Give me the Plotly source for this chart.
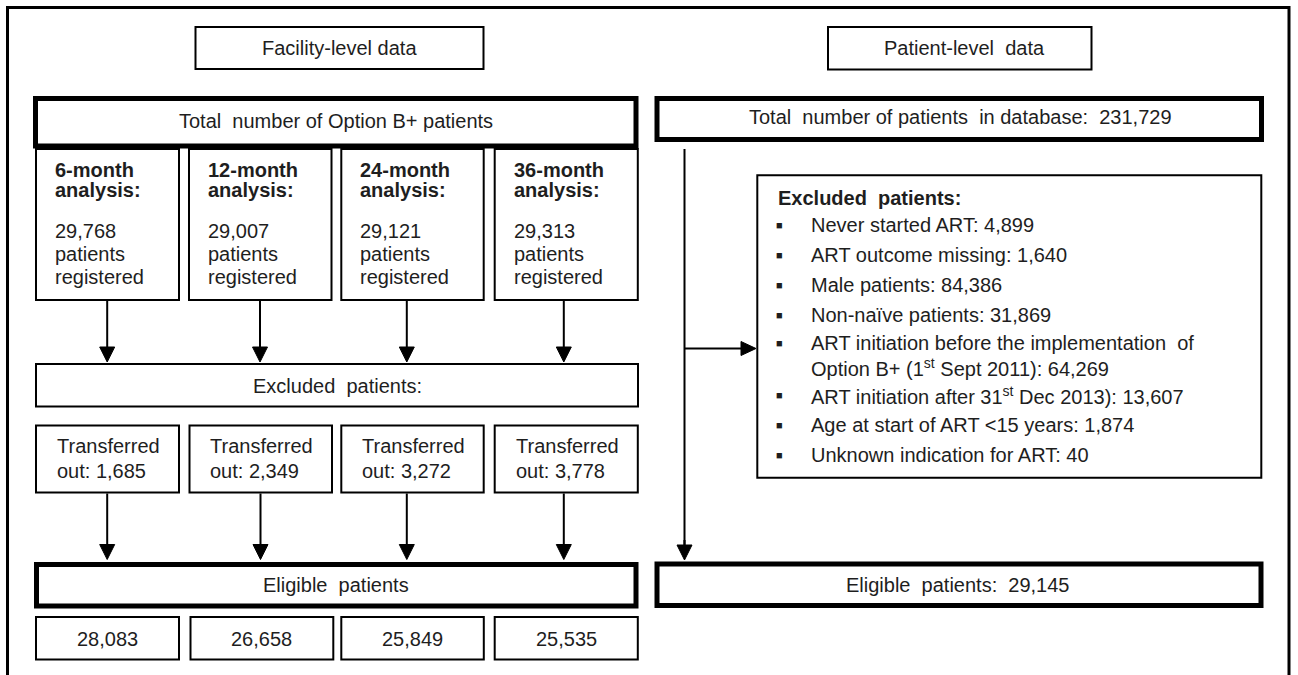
import plotly.graph_objects as go

# ---------------- data ----------------
facility_title = "Facility-level data"
patient_title = "Patient-level\u00a0 data"
facility_total_label = "Total\u00a0 number of Option B+ patients"
analysis_labels = ["6-month", "12-month", "24-month", "36-month"]
registered_counts = [29768, 29007, 29121, 29313]
transferred_counts = [1685, 2349, 3272, 3778]
eligible_counts = [28083, 26658, 25849, 25535]
database_total = 231729
excluded_reasons = [
    ["Never started ART"],
    ["ART outcome missing"],
    ["Male patients"],
    ["Non-na\u00efve patients"],
    ["ART initiation before the implementation\u00a0 of", "Option B+ (1<sup>st</sup> Sept 2011)"],
    ["ART initiation after 31<sup>st</sup> Dec 2013)"],
    ["Age at start of ART &lt;15 years"],
    ["Unknown indication for ART"],
]
excluded_counts = [4899, 1640, 84386, 31869, 64269, 13607, 1874, 40]
patient_eligible = 29145

# ---------------- layout constants ----------------
W, H = 1298, 675
TXT = "#1e1e1e"
FONT = "Arial, 'Liberation Sans', sans-serif"
FS = 20
DY = 0  # vertical text nudge

col_left = [36, 189, 341.3, 494.7]
col_right = [179, 331.5, 483.7, 637.8]
bot_left = [36, 190.5, 341.3, 494.7]
bot_right = [179, 333.3, 483.8, 637.8]
arrow_x = [107.2, 260, 406.8, 563.8]

shapes = []
annotations = []


def rect(x0, y0, x1, y1, w=2):
    shapes.append(dict(type="rect", xref="x", yref="y", x0=x0, y0=y0, x1=x1, y1=y1,
                       line=dict(color="black", width=w), fillcolor="rgba(0,0,0,0)", layer="above"))


def line(x0, y0, x1, y1, w=2):
    shapes.append(dict(type="line", xref="x", yref="y", x0=x0, y0=y0, x1=x1, y1=y1,
                       line=dict(color="black", width=w)))


def down_arrow(x, y0, y1, hw=7.5, hh=15):
    line(x, y0, x, y1 - hh + 1)
    shapes.append(dict(type="path", xref="x", yref="y",
                       path=f"M{x-hw},{y1-hh} L{x+hw},{y1-hh} L{x},{y1} Z",
                       fillcolor="black", line=dict(color="black", width=1)))


def right_arrow(x0, x1, y, hw=7, hh=15):
    line(x0, y, x1 - hh + 1, y)
    shapes.append(dict(type="path", xref="x", yref="y",
                       path=f"M{x1-hh},{y-hw} L{x1-hh},{y+hw} L{x1},{y} Z",
                       fillcolor="black", line=dict(color="black", width=1)))


def text(x, y, s, anchor="center", bold=False, size=FS):
    if bold:
        s = f"<b>{s}</b>"
    annotations.append(dict(x=x, y=y + DY, xref="x", yref="y", text=s, showarrow=False,
                            xanchor=anchor, yanchor="middle", align="left",
                            font=dict(family=FONT, size=size, color=TXT)))


def fmt(n):
    return f"{n:,}"


# outer frame (open at the bottom)
shapes.append(dict(type="path", xref="x", yref="y",
                   path="M7.5,690 L7.5,7.5 L1289,7.5 L1289,690",
                   line=dict(color="black", width=3)))

# headers
rect(195.5, 27, 483.5, 69)
text(339.5, 48, facility_title)
rect(828, 27, 1091.5, 69.5)
text(964, 48, patient_title)

# facility-level column
rect(35.5, 98.5, 636, 146, w=5)
text(336, 121, facility_total_label)

for i in range(4):
    rect(col_left[i], 149, col_right[i], 300)
    tx = col_left[i] + 17
    text(tx, 170, analysis_labels[i], anchor="left", bold=True)
    text(tx, 190, "analysis:", anchor="left", bold=True)
    text(tx, 230.5, fmt(registered_counts[i]), anchor="left")
    text(tx, 254, "patients", anchor="left")
    text(tx, 277, "registered", anchor="left")
    down_arrow(arrow_x[i], 301, 362)

rect(36, 364, 638, 406.5)
text(337, 386, "Excluded\u00a0 patients:")

for i in range(4):
    rect(col_left[i] if i != 1 else 189.5, 425.5, col_right[i] if i != 1 else 332, 492.5)
    tx = col_left[i] + 19
    text(tx, 446, "Transferred", anchor="left")
    text(tx, 471, f"out: {fmt(transferred_counts[i])}", anchor="left")
    down_arrow(arrow_x[i] + (0.5 if i == 1 else 0), 493.5, 559.5)

rect(36.5, 564.5, 636, 606, w=5)
text(336, 585, "Eligible\u00a0 patients")

for i in range(4):
    rect(bot_left[i], 617, bot_right[i], 659.5)
    text((bot_left[i] + bot_right[i]) / 2, 639, fmt(eligible_counts[i]))

# patient-level column
rect(657, 98.5, 1261.5, 139.5, w=5)
text(960, 117, f"Total\u00a0 number of patients\u00a0 in database:\u00a0 {fmt(database_total)}")

line(684.5, 149, 684.5, 548)
down_arrow(684.5, 540, 560)
right_arrow(684.5, 756, 348.5)

rect(757.3, 175.3, 1261.3, 477.8)
text(776, 198, "Excluded\u00a0 patients:", anchor="left", bold=True)

bullet_y = [225, 255, 285, 315, 343, 395, 425, 455]
for i, (lines_, cnt) in enumerate(zip(excluded_reasons, excluded_counts)):
    y = bullet_y[i]
    text(779.5, y, "\u25a0", size=11)
    for j, ln in enumerate(lines_):
        s = ln + (f": {fmt(cnt)}" if j == len(lines_) - 1 else "")
        text(809, y + 24 * j, s, anchor="left")

rect(657, 564, 1261, 605.5, w=5)
text(958, 584.5, f"Eligible\u00a0 patients:\u00a0 {fmt(patient_eligible)}")

fig = go.Figure()
fig.update_layout(
    width=W, height=H,
    margin=dict(l=0, r=0, t=0, b=0),
    paper_bgcolor="white", plot_bgcolor="white",
    xaxis=dict(range=[0, W], visible=False, fixedrange=True),
    yaxis=dict(range=[H, 0], visible=False, fixedrange=True),
    shapes=shapes, annotations=annotations, showlegend=False,
)
fig.write_html("out.html", config={"displayModeBar": False, "staticPlot": True},
               post_script="document.body.style.margin='0';document.body.style.overflow='hidden';")
